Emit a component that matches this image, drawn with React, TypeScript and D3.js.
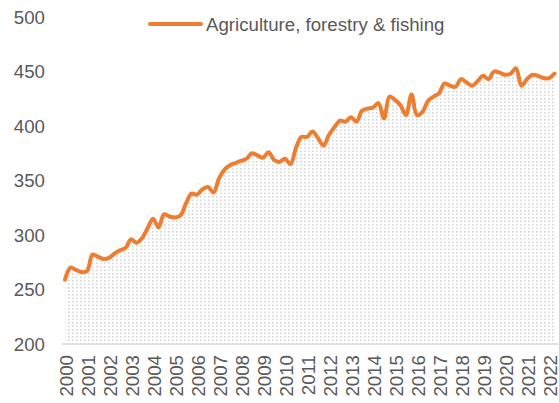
import React from "react";
import * as d3 from "d3";

const years = d3.range(2000, 2023).map(String);
const seriesName = "Agriculture, forestry & fishing";
const values = [
  259, 270, 268, 266, 267, 282, 280, 278, 279, 283,
  286, 288, 296, 293, 297, 306, 315, 307, 319, 317,
  316, 318, 329, 338, 337, 342, 344, 339, 352, 360,
  364, 366, 368, 370, 375, 373, 371, 376, 369, 367,
  370, 365, 380, 390, 390, 395, 389, 382, 392, 399,
  405, 404, 408, 404, 414, 416, 417, 421, 407, 427,
  424, 419, 410, 429, 410, 413, 423, 427, 430, 439,
  437, 436, 443, 440, 437, 441, 446, 443, 450, 449,
  447, 448, 453, 437, 443, 447, 446, 444, 444, 448,
];
const yTicks = [200, 250, 300, 350, 400, 450, 500];

const W = 559;
const H = 403;
const ORANGE = "#ED7D31";
const TEXT = "#595959";
const FONT = "Liberation Sans, Arial, sans-serif";

export default function App() {
  const x = d3.scaleLinear().domain([0, 89]).range([65, 554.5]);
  const y = d3.scaleLinear().domain([200, 500]).range([344, 17]);
  const idx = values.map((_, i) => i);
  const line = d3
    .line<number>()
    .x((i) => x(i))
    .y((i) => y(values[i]))
    .curve(d3.curveCatmullRom.alpha(0.5));
  const area = d3
    .area<number>()
    .x((i) => x(i))
    .y0(y(200))
    .y1((i) => y(values[i]))
    .curve(d3.curveCatmullRom.alpha(0.5));

  return (
    <svg
      width={W}
      height={H}
      style={{ position: "absolute", left: 0, top: 0, display: "block" }}
      fontFamily={FONT}
    >
      <defs>
        <pattern id="dots" width={4} height={3.5} patternUnits="userSpaceOnUse">
          <rect x={0} y={0} width={1.6} height={1.6} fill="#d4d4d4" />
        </pattern>
      </defs>
      <rect width={W} height={H} fill="#fff" />
      <path d={area(idx) || ""} fill="url(#dots)" />
      <line x1={62} x2={559} y1={y(200)} y2={y(200)} stroke="#d9d9d9" strokeWidth={1.5} />
      <path
        d={line(idx) || ""}
        fill="none"
        stroke={ORANGE}
        strokeWidth={4}
        strokeLinejoin="round"
        strokeLinecap="round"
      />
      {yTicks.map((t) => (
        <text
          key={t}
          x={45}
          y={y(t)}
          dy="0.35em"
          textAnchor="end"
          fontSize={18.67}
          fill={TEXT}
        >
          {t}
        </text>
      ))}
      {years.map((yr, k) => (
        <text
          key={yr}
          transform={`translate(${x(k * 4) + 7.5},${355}) rotate(-90)`}
          textAnchor="end"
          fontSize={18.67}
          fill={TEXT}
        >
          {yr}
        </text>
      ))}
      <line x1={150} x2={201} y1={24} y2={24} stroke={ORANGE} strokeWidth={4} strokeLinecap="round" />
      <text x={206} y={31} fontSize={18.67} fill={TEXT}>
        {seriesName}
      </text>
    </svg>
  );
}
